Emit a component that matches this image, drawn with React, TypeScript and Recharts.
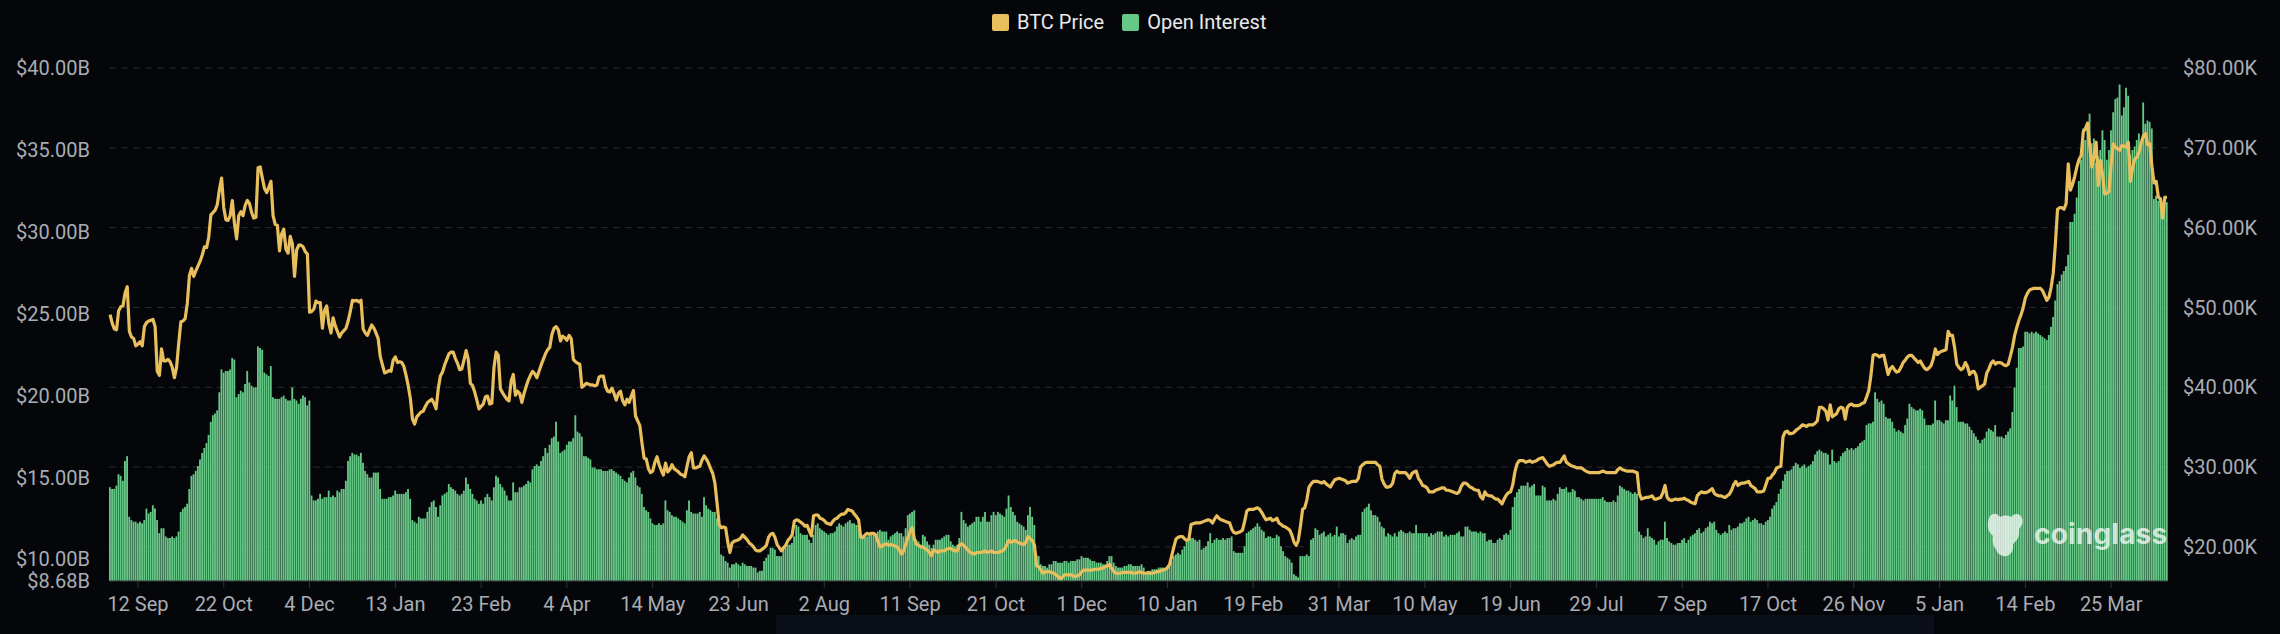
import React from "react";
import {
  Bar,
  CartesianGrid,
  ComposedChart,
  Line,
  XAxis,
  YAxis,
} from "recharts";

// Daily open interest, billions of USD (one value per category, 960 days)
const OPEN_INTEREST_B: number[] = [
  14.4, 14.3, 14.3, 14.5, 15.2, 15.1, 14.8, 16.0, 16.3, 12.6, 12.4, 12.3, 12.3, 12.2, 12.3, 12.2, 12.4, 13.1, 12.8, 12.9,
  13.3, 13.1, 12.4, 11.6, 11.9, 11.9, 11.4, 11.3, 11.3, 11.4, 11.3, 11.4, 11.7, 12.9, 13.1, 13.2, 13.4, 14.3, 15.1, 15.2,
  15.4, 15.7, 16.1, 16.5, 16.8, 17.1, 17.6, 18.4, 18.8, 18.9, 19.1, 20.2, 21.6, 21.4, 21.5, 21.5, 21.6, 22.3, 22.2, 19.9,
  20.1, 20.3, 20.2, 20.7, 21.5, 20.8, 20.6, 20.5, 20.5, 23.0, 22.9, 22.8, 21.4, 21.3, 21.2, 21.8, 19.9, 19.8, 19.8, 19.8,
  19.9, 20.0, 19.8, 19.7, 19.7, 20.5, 19.8, 19.7, 19.5, 19.8, 20.0, 19.9, 19.4, 19.7, 13.9, 13.6, 13.6, 13.7, 14.0, 13.7,
  13.8, 13.8, 14.2, 13.8, 13.9, 13.8, 14.2, 14.1, 14.3, 14.3, 14.8, 16.0, 16.3, 16.5, 16.4, 16.4, 16.3, 16.5, 15.9, 15.4,
  15.2, 15.0, 15.0, 15.3, 15.3, 15.3, 14.3, 13.7, 13.7, 13.7, 13.8, 13.8, 13.9, 14.2, 14.0, 14.0, 14.0, 14.0, 14.1, 14.3,
  13.7, 12.4, 12.3, 12.2, 12.6, 12.5, 12.5, 12.5, 12.9, 13.2, 13.5, 13.6, 13.2, 12.6, 13.3, 13.9, 14.0, 14.1, 14.6, 14.4,
  14.3, 14.2, 14.0, 13.9, 14.0, 14.2, 15.0, 14.6, 14.3, 14.0, 13.7, 13.6, 13.4, 13.6, 13.4, 13.8, 14.0, 13.8, 13.6, 14.4,
  15.1, 15.0, 14.6, 14.4, 14.2, 13.9, 13.6, 13.6, 14.7, 14.1, 14.1, 14.4, 14.4, 14.5, 14.6, 14.8, 14.7, 15.5, 15.7, 15.8,
  15.7, 16.0, 16.3, 16.8, 16.5, 17.0, 17.4, 17.5, 18.4, 17.2, 16.5, 16.6, 16.7, 17.0, 17.2, 17.2, 17.4, 18.8, 17.8, 17.7,
  17.5, 16.3, 16.3, 16.2, 16.1, 15.6, 15.6, 15.5, 15.5, 15.5, 15.4, 15.4, 15.4, 15.5, 15.5, 15.4, 15.3, 15.2, 15.1, 14.9,
  14.8, 14.7, 15.0, 15.3, 15.4, 15.0, 14.5, 14.4, 14.0, 13.2, 13.0, 12.9, 12.5, 12.2, 12.1, 12.1, 12.2, 12.1, 12.2, 13.6,
  13.0, 12.9, 12.7, 12.6, 12.6, 12.5, 12.4, 12.3, 12.2, 13.0, 13.6, 12.9, 12.8, 12.8, 12.8, 12.9, 12.6, 13.8, 13.3, 13.1,
  13.0, 12.9, 12.9, 12.5, 12.1, 10.3, 10.2, 9.9, 9.8, 9.5, 9.7, 9.7, 9.8, 9.7, 9.6, 9.8, 9.7, 9.6, 9.6, 9.6,
  9.5, 9.5, 9.2, 9.3, 9.3, 9.9, 10.1, 10.3, 10.7, 10.7, 10.6, 10.2, 10.2, 10.2, 10.6, 10.7, 10.9, 10.9, 11.0, 11.4,
  12.1, 12.0, 11.6, 11.5, 11.5, 11.5, 11.2, 11.0, 11.5, 12.1, 12.2, 11.9, 11.8, 11.7, 11.6, 11.5, 11.6, 11.6, 11.7, 12.0,
  12.2, 12.1, 12.0, 12.2, 12.3, 12.4, 12.2, 12.2, 12.1, 12.1, 11.4, 11.3, 11.4, 11.4, 11.6, 11.6, 11.6, 11.5, 11.7, 11.8,
  11.7, 11.7, 11.7, 11.2, 11.4, 11.5, 11.6, 11.7, 11.6, 11.6, 11.4, 11.9, 12.7, 12.8, 12.9, 13.0, 11.2, 11.1, 10.9, 11.5,
  11.4, 11.1, 10.9, 10.7, 10.9, 11.2, 11.2, 11.2, 11.3, 11.4, 11.5, 11.5, 11.1, 10.9, 10.8, 10.9, 11.3, 12.9, 12.4, 12.2,
  12.0, 12.1, 12.2, 12.3, 12.6, 12.6, 12.3, 12.6, 12.9, 12.3, 12.3, 12.7, 12.9, 12.7, 12.9, 12.8, 12.7, 12.6, 13.1, 13.9,
  13.2, 12.9, 12.7, 12.3, 12.2, 12.1, 12.0, 11.8, 12.7, 13.2, 12.6, 12.1, 10.3, 10.2, 9.7, 9.6, 9.6, 9.5, 9.7, 9.7,
  9.9, 9.9, 9.8, 9.8, 9.8, 9.9, 9.9, 9.8, 9.9, 9.9, 9.9, 10.0, 10.0, 10.2, 10.1, 10.1, 10.1, 10.0, 9.9, 9.9,
  9.8, 9.8, 9.8, 9.7, 9.7, 9.9, 10.2, 10.2, 9.8, 9.6, 9.5, 9.5, 9.5, 9.6, 9.6, 9.7, 9.7, 9.6, 9.6, 9.6,
  9.6, 9.7, 9.5, 9.2, 9.1, 9.3, 9.4, 9.4, 9.4, 9.5, 9.5, 9.5, 9.4, 9.6, 9.7, 9.9, 10.2, 10.3, 10.4, 10.3,
  10.6, 10.8, 11.1, 11.2, 11.3, 11.3, 11.2, 11.1, 11.2, 10.6, 10.7, 10.8, 11.1, 11.6, 11.0, 11.2, 11.3, 11.2, 11.2, 11.3,
  11.2, 11.3, 11.3, 11.4, 10.5, 10.4, 10.4, 10.4, 10.4, 10.8, 11.6, 11.7, 11.8, 11.9, 12.0, 12.2, 12.0, 11.8, 11.7, 11.3,
  11.4, 11.4, 11.3, 11.3, 11.5, 11.4, 10.8, 10.5, 10.2, 10.1, 10.0, 9.8, 9.1, 9.0, 8.9, 10.2, 10.2, 10.2, 10.3, 10.2,
  11.2, 11.3, 11.9, 11.8, 11.5, 11.6, 11.7, 11.4, 11.5, 11.6, 11.4, 11.5, 12.0, 11.4, 11.6, 11.6, 11.5, 11.0, 11.2, 11.3,
  11.2, 11.4, 11.5, 11.5, 12.9, 13.1, 13.2, 13.4, 13.0, 12.7, 12.7, 12.6, 12.3, 12.0, 11.9, 11.4, 11.6, 11.5, 11.4, 11.6,
  11.4, 11.7, 11.8, 11.7, 11.6, 11.6, 11.7, 11.6, 11.6, 12.1, 11.6, 11.6, 11.6, 11.6, 11.6, 11.4, 11.6, 11.5, 11.6, 11.7,
  11.7, 11.7, 11.4, 11.5, 11.4, 11.5, 11.5, 11.5, 11.6, 11.7, 11.4, 11.4, 12.0, 12.0, 11.8, 11.7, 11.7, 11.7, 11.6, 11.7,
  11.6, 11.6, 11.1, 11.2, 11.2, 11.0, 11.0, 11.2, 11.3, 11.2, 11.5, 11.6, 11.5, 11.8, 13.2, 13.8, 14.1, 14.3, 14.5, 14.5,
  14.5, 14.7, 14.4, 14.5, 14.6, 13.9, 13.9, 13.9, 14.5, 14.4, 13.6, 13.6, 13.6, 13.7, 13.6, 14.0, 14.4, 14.3, 14.3, 14.4,
  14.1, 14.1, 14.3, 14.2, 13.8, 13.8, 13.7, 13.6, 13.7, 13.7, 13.7, 13.7, 13.7, 13.7, 13.7, 13.7, 13.8, 13.6, 13.5, 13.5,
  13.5, 13.6, 13.5, 13.9, 14.5, 14.4, 14.3, 14.2, 14.2, 14.1, 14.0, 14.1, 14.0, 11.7, 11.5, 11.3, 11.4, 11.9, 11.4, 11.3,
  11.2, 10.9, 11.1, 11.2, 11.2, 12.3, 11.3, 11.1, 11.0, 10.9, 10.9, 11.0, 11.0, 11.2, 11.3, 11.0, 11.2, 11.4, 11.5, 11.6,
  11.8, 11.9, 11.6, 11.7, 11.9, 12.0, 12.3, 12.2, 12.3, 11.8, 11.6, 11.5, 11.6, 11.7, 11.6, 12.1, 11.8, 11.9, 11.9, 12.0,
  12.2, 12.2, 12.3, 12.5, 12.6, 12.3, 12.4, 12.5, 12.4, 12.2, 12.2, 12.1, 12.3, 12.4, 12.6, 13.1, 13.3, 13.5, 14.0, 14.3,
  14.8, 15.2, 15.4, 15.4, 15.5, 15.7, 15.9, 15.8, 15.6, 15.7, 15.8, 15.6, 15.7, 15.8, 16.0, 16.4, 16.6, 16.7, 16.6, 16.5,
  16.5, 16.4, 15.8, 16.7, 16.0, 15.9, 16.0, 16.3, 16.5, 16.6, 16.8, 16.7, 16.8, 16.7, 16.8, 16.9, 17.1, 17.2, 17.3, 18.2,
  18.3, 18.3, 18.4, 20.2, 19.8, 19.6, 19.7, 19.5, 18.7, 18.6, 18.6, 18.4, 18.0, 17.8, 17.9, 17.8, 17.7, 18.2, 18.6, 19.5,
  19.3, 19.2, 19.1, 19.1, 19.2, 19.1, 18.6, 18.2, 18.2, 18.2, 18.3, 19.7, 18.5, 18.5, 18.4, 18.3, 18.5, 18.5, 20.0, 19.7,
  20.6, 19.3, 18.4, 18.4, 18.4, 18.3, 18.3, 18.1, 17.9, 17.7, 17.5, 17.3, 17.1, 17.3, 17.4, 17.8, 18.0, 17.9, 17.8, 18.2,
  17.5, 17.5, 17.5, 17.4, 17.6, 17.8, 18.0, 19.0, 20.5, 21.7, 22.9, 22.9, 23.0, 23.9, 23.9, 23.8, 23.9, 23.8, 23.9, 23.8,
  23.7, 23.6, 23.5, 23.4, 23.7, 24.2, 24.8, 25.8, 26.8, 27.0, 27.4, 27.6, 27.9, 28.6, 30.6, 30.6, 31.1, 32.1, 33.1, 34.4,
  36.3, 35.6, 36.6, 37.2, 35.4, 35.7, 34.2, 34.6, 35.0, 36.2, 35.6, 34.4, 35.0, 36.2, 37.3, 38.1, 38.2, 39.0, 37.1, 37.6,
  38.8, 38.3, 34.7, 35.0, 35.2, 35.6, 36.0, 35.2, 37.9, 36.6, 36.8, 36.7, 36.3, 32.0, 32.2, 31.9, 31.7, 31.5, 31.7, 31.8,
];

// Daily BTC price, thousands of USD (same 960 categories)
const BTC_PRICE_K: number[] = [
  49.1, 48.0, 47.3, 47.2, 49.6, 50.1, 50.2, 51.8, 52.6, 47.0, 46.3, 46.1, 45.2, 45.4, 45.7, 45.2, 47.6, 48.1, 48.3, 48.4,
  48.5, 47.6, 42.0, 41.5, 44.8, 43.3, 43.3, 43.5, 43.2, 42.5, 41.2, 42.5, 45.5, 48.2, 48.3, 48.6, 50.5, 54.0, 54.9, 53.9,
  54.6, 55.2, 55.8, 56.6, 57.6, 57.5, 58.8, 61.6, 61.9, 62.2, 62.9, 64.8, 66.2, 62.5, 61.0, 60.9, 61.5, 63.4, 60.5, 58.6,
  61.5, 62.0, 61.5, 62.8, 63.4, 63.0, 61.9, 61.2, 61.3, 67.5, 67.6, 66.2, 64.9, 64.4, 65.0, 65.8, 61.5, 60.4, 60.3, 57.1,
  59.2, 59.8, 57.3, 56.8, 58.9, 58.0, 53.9, 57.2, 57.8, 57.8, 57.6, 57.0, 56.7, 49.4, 49.5, 49.8, 50.8, 50.6, 50.6, 47.4,
  49.6, 50.2, 48.0, 46.8, 48.7, 47.7, 47.0, 46.3, 46.8, 47.1, 47.4, 48.3, 49.5, 50.9, 50.8, 50.9, 50.7, 50.9, 47.3, 46.8,
  46.5, 47.2, 47.8, 47.4, 46.8, 46.1, 43.8, 42.8, 41.8, 41.9, 42.1, 42.0, 43.4, 43.8, 43.1, 43.2, 43.1, 42.6, 41.5, 40.2,
  38.6, 36.0, 35.4, 36.3, 36.6, 36.9, 37.0, 37.6, 38.1, 38.3, 38.5, 38.0, 37.3, 39.8, 41.4, 41.9, 42.8, 43.5, 44.2, 44.4,
  44.4, 43.6, 43.0, 42.2, 42.3, 43.4, 44.6, 43.5, 40.5, 40.2, 39.4, 38.4, 37.3, 37.6, 37.9, 38.8, 38.9, 37.9, 38.0, 42.5,
  44.4, 44.0, 39.8, 39.3, 38.9, 38.5, 38.3, 40.8, 41.6, 39.0, 39.5, 39.2, 38.1, 39.2, 40.1, 40.9, 41.5, 42.0, 41.7, 41.2,
  42.0, 42.8, 43.5, 44.2, 44.7, 45.0, 46.6, 47.4, 47.6, 47.2, 45.8, 46.4, 46.2, 45.9, 46.5, 46.1, 43.5, 43.2, 43.0, 42.9,
  40.0, 40.2, 40.5, 40.4, 40.3, 40.3, 40.2, 40.3, 41.3, 41.4, 41.4, 40.1, 39.5, 39.4, 39.9, 39.2, 38.4, 39.2, 39.5, 38.3,
  37.8, 38.5, 38.1, 38.9, 39.6, 36.4, 35.8, 35.2, 33.0, 31.1, 31.0, 29.8, 29.3, 29.5, 30.6, 31.3, 30.3, 29.6, 29.0, 30.5,
  29.4, 29.7, 30.3, 29.8, 29.6, 29.4, 29.1, 29.0, 28.8, 30.1, 31.3, 31.8, 29.9, 29.9, 30.0, 30.1, 30.9, 31.4, 31.0, 30.5,
  29.8, 29.2, 28.0, 25.5, 22.8, 22.4, 22.5, 22.4, 20.6, 19.3, 20.5, 20.7, 20.8, 20.9, 21.1, 21.5, 21.2, 20.9, 20.5, 20.3,
  20.0, 19.6, 19.5, 19.5, 19.7, 19.9, 20.2, 21.2, 21.6, 21.7, 21.2, 20.3, 19.9, 19.5, 19.9, 20.2, 20.8, 21.1, 21.5, 23.2,
  23.4, 23.3, 23.1, 22.9, 22.6, 22.7, 22.0, 21.4, 23.9, 24.0, 24.0, 23.6, 23.5, 23.3, 23.0, 22.9, 22.8, 23.2, 23.5, 23.6,
  23.9, 24.1, 24.1, 24.3, 24.7, 24.6, 24.5, 24.1, 23.8, 23.4, 21.2, 21.2, 21.5, 21.7, 21.6, 21.7, 21.7, 21.5, 20.7, 20.0,
  20.1, 20.3, 20.4, 20.2, 20.3, 20.2, 20.1, 20.0, 19.6, 19.1, 19.5, 20.4, 21.2, 21.9, 22.4, 21.0, 20.3, 20.2, 20.0, 20.0,
  19.8, 19.6, 19.3, 18.9, 19.6, 19.5, 19.3, 19.5, 19.5, 19.5, 19.7, 19.8, 19.8, 19.6, 19.5, 19.5, 20.2, 20.4, 20.2, 19.9,
  19.6, 19.3, 19.2, 19.1, 19.3, 19.3, 19.3, 19.4, 19.5, 19.3, 19.4, 19.5, 19.3, 19.3, 19.3, 19.4, 19.5, 19.7, 20.2, 20.8,
  20.6, 20.7, 20.8, 20.6, 20.5, 20.4, 20.3, 20.6, 21.3, 21.0, 20.8, 20.2, 17.6, 17.5, 17.1, 16.7, 16.9, 16.9, 16.9, 16.8,
  16.7, 16.5, 16.3, 16.0, 16.2, 16.5, 16.5, 16.5, 16.5, 16.4, 16.3, 16.4, 16.5, 16.9, 17.1, 17.1, 17.1, 17.1, 17.1, 17.2,
  17.2, 17.2, 17.3, 17.4, 17.5, 17.6, 17.8, 17.3, 16.9, 16.7, 16.7, 16.7, 16.8, 16.8, 16.8, 16.8, 16.8, 16.7, 16.7, 16.8,
  16.9, 16.8, 16.7, 16.7, 16.8, 16.7, 16.7, 16.8, 16.9, 16.9, 17.0, 17.1, 17.2, 17.4, 17.8, 18.9, 20.0, 21.0, 21.2, 21.3,
  21.3, 21.0, 20.8, 21.0, 22.8, 22.9, 23.0, 23.0, 23.0, 23.1, 23.2, 23.3, 23.4, 23.3, 23.0, 23.5, 23.9, 23.6, 23.4, 23.3,
  23.2, 23.1, 23.0, 22.2, 21.8, 21.7, 21.8, 21.9, 22.1, 23.2, 24.5, 24.7, 24.7, 24.7, 24.8, 24.9, 24.7, 24.3, 23.8, 23.4,
  23.5, 23.6, 23.3, 23.4, 23.6, 23.0, 22.8, 22.6, 22.5, 22.3, 22.1, 21.5, 20.6, 20.2, 20.8, 22.6, 24.7, 24.9, 25.9, 27.5,
  27.9, 28.2, 28.2, 28.2, 28.1, 28.0, 28.2, 27.9, 27.7, 27.5, 28.0, 28.4, 28.5, 28.6, 28.5, 28.4, 28.3, 28.0, 28.1, 28.2,
  28.2, 28.2, 28.6, 30.0, 30.3, 30.5, 30.6, 30.6, 30.6, 30.6, 30.6, 30.3, 30.1, 28.5, 27.9, 27.5, 27.5, 27.6, 28.0, 29.2,
  29.5, 29.3, 29.3, 29.3, 29.3, 29.0, 28.6, 29.2, 29.4, 29.5, 28.6, 28.2, 27.7, 27.6, 27.4, 26.9, 26.9, 26.9, 27.1, 27.2,
  27.3, 27.4, 27.4, 27.1, 27.1, 27.0, 26.9, 26.8, 26.7, 26.9, 27.6, 28.0, 28.0, 27.8, 27.5, 27.4, 27.2, 27.1, 27.1, 26.3,
  26.0, 26.9, 26.5, 26.4, 26.4, 26.2, 26.0, 26.0, 25.7, 25.4, 26.0, 26.5, 26.8, 26.9, 27.8, 29.4, 30.4, 30.8, 30.8, 30.8,
  30.6, 30.7, 30.8, 30.6, 30.7, 30.8, 31.0, 31.1, 31.2, 30.8, 30.4, 30.1, 30.2, 30.3, 30.5, 30.6, 30.6, 31.0, 31.4, 30.6,
  30.4, 30.2, 30.1, 30.0, 29.9, 29.9, 29.9, 29.7, 29.5, 29.4, 29.3, 29.3, 29.3, 29.3, 29.3, 29.4, 29.5, 29.4, 29.3, 29.3,
  29.3, 29.3, 29.3, 29.7, 29.9, 29.7, 29.6, 29.5, 29.5, 29.5, 29.5, 29.4, 29.3, 26.7, 26.0, 26.1, 26.2, 26.2, 26.3, 26.4,
  26.0, 26.0, 26.1, 26.2, 26.8, 27.7, 26.2, 25.9, 25.8, 25.9, 26.0, 25.9, 26.0, 26.0, 26.1, 25.9, 25.8, 25.6, 25.5, 25.4,
  26.4, 26.7, 26.9, 26.8, 26.8, 26.9, 27.1, 27.3, 26.7, 26.5, 26.4, 26.4, 26.3, 26.2, 26.4, 26.6, 27.1, 27.8, 28.2, 27.7,
  27.9, 28.0, 28.0, 28.1, 28.2, 27.7, 27.5, 27.3, 26.9, 26.9, 26.9, 27.0, 27.8, 28.6, 28.6, 29.0, 29.3, 29.9, 30.0, 30.1,
  33.8, 34.4, 34.5, 34.2, 34.2, 34.3, 34.6, 34.8, 35.0, 35.3, 35.2, 35.1, 35.3, 35.3, 35.3, 35.5, 35.8, 37.5, 37.5, 37.3,
  37.0, 35.9, 37.8, 36.3, 36.5, 36.7, 37.3, 37.5, 37.4, 36.0, 37.5, 37.8, 37.9, 37.7, 37.7, 37.7, 37.8, 38.0, 38.1, 38.8,
  39.6, 41.5, 44.0, 44.1, 44.0, 43.8, 44.0, 44.0, 42.8, 41.6, 42.3, 42.6, 42.2, 41.9, 42.0, 42.5, 43.1, 43.4, 43.8, 44.0,
  44.0, 43.7, 43.4, 43.1, 43.3, 42.8, 42.4, 42.2, 42.4, 42.7, 43.5, 44.8, 44.1, 44.4, 44.5, 44.6, 44.7, 47.0, 46.5, 46.5,
  45.0, 42.9, 42.5, 42.2, 42.4, 43.1, 42.6, 41.6, 41.9, 42.0, 41.5, 39.8, 40.0, 40.2, 40.4, 41.8, 42.3, 43.0, 43.3, 42.9,
  43.1, 43.1, 43.0, 42.8, 42.7, 42.9, 43.9, 45.0, 46.5, 47.5, 48.4, 49.1, 50.0, 51.2, 51.8, 52.2, 52.3, 52.4, 52.4, 52.4,
  52.4, 52.1, 51.5, 50.9, 51.3, 52.5, 54.3, 58.0, 62.3, 62.5, 62.5, 62.3, 63.0, 68.0, 64.7, 65.4, 66.4, 67.6, 68.5, 69.0,
  72.0, 72.4, 73.1, 70.3, 67.6, 68.9, 70.7, 65.3, 68.4, 66.6, 64.2, 64.3, 64.5, 68.0, 70.5, 70.1, 69.9, 69.7, 70.3, 70.2,
  70.1, 70.7, 65.8, 67.5, 68.6, 68.8, 69.5, 70.6, 71.5, 71.8, 70.4, 70.5, 67.7, 65.6, 65.8, 63.8, 63.6, 61.2, 63.8, 63.8,
];

// Category positions that carry a date label, and the labels themselves
const X_TICK_INDEX = [
  13, 53, 93, 133, 173, 213, 253, 293, 333, 373, 413, 453,
  493, 533, 573, 613, 653, 693, 733, 773, 813, 853, 893, 933,
];
const X_TICK_LABELS = [
  "12 Sep", "22 Oct", "4 Dec", "13 Jan", "23 Feb", "4 Apr", "14 May", "23 Jun",
  "2 Aug", "11 Sep", "21 Oct", "1 Dec", "10 Jan", "19 Feb", "31 Mar", "10 May",
  "19 Jun", "29 Jul", "7 Sep", "17 Oct", "26 Nov", "5 Jan", "14 Feb", "25 Mar",
];

const OI_TICKS = [8.68, 10, 15, 20, 25, 30, 35, 40];
const PRICE_TICKS = [20, 30, 40, 50, 60, 70, 80];

const OI_DOMAIN: [number, number] = [8.68, 40];
const PRICE_DOMAIN: [number, number] = [15.73, 80];

const GOLD = "#e8bf5c";
const GREEN = "#66c886";
const BG = "#05060a";

const data = OPEN_INTEREST_B.map((oi, i) => ({ i, oi, price: BTC_PRICE_K[i] }));

const tickLabel = (i: number) => {
  const k = X_TICK_INDEX.indexOf(i);
  return k >= 0 ? X_TICK_LABELS[k] : "";
};

const axisText = { fill: "#a9adb3", fontSize: 20, fontFamily: "Roboto, sans-serif" };

function LegendItem({ color, label }: { color: string; label: string }) {
  return (
    <div style={{ display: "flex", alignItems: "center", marginRight: 18 }}>
      <span
        style={{
          width: 17,
          height: 17,
          background: color,
          borderRadius: 2,
          marginRight: 8,
          display: "inline-block",
        }}
      />
      <span style={{ color: "#e9eaec", fontSize: 20, lineHeight: "20px" }}>{label}</span>
    </div>
  );
}

// coinglass watermark, drawn over the bars
function Watermark() {
  return (
    <div
      style={{
        position: "absolute",
        left: 1984,
        top: 510,
        display: "flex",
        alignItems: "center",
        pointerEvents: "none",
        opacity: 0.72,
      }}
    >
      <svg width={42} height={48} viewBox="0 0 42 48">
        <path
          d="M6 6 C10 2 14 4 16 7 C19 5 24 5 27 7 C30 3 36 3 38 8 C40 13 37 17 35 19
             C36 26 33 31 29 34 C30 39 28 44 23 46 C18 47 13 44 12 39 C9 36 8 31 9 26
             C5 23 3 18 4 13 C4 10 5 8 6 6 Z"
          fill="#ffffff"
        />
      </svg>
      <span
        style={{
          color: "#ffffff",
          fontFamily: "Inter, Roboto, sans-serif",
          fontWeight: 700,
          fontSize: 28,
          marginLeft: 8,
          letterSpacing: 0.2,
        }}
      >
        coinglass
      </span>
    </div>
  );
}

export default function App() {
  return (
    <div
      style={{
        position: "absolute",
        left: 0,
        top: 0,
        width: 2280,
        height: 634,
        background: BG,
        fontFamily: "Roboto, sans-serif",
        overflow: "hidden",
      }}
    >
      <div
        style={{
          position: "absolute",
          left: 992,
          top: 12,
          display: "flex",
          alignItems: "center",
        }}
      >
        <LegendItem color={GOLD} label="BTC Price" />
        <LegendItem color={GREEN} label="Open Interest" />
      </div>

      <ComposedChart
        width={2280}
        height={634}
        data={data}
        margin={{ top: 68, right: 12, bottom: 3, left: 9 }}
      >
        <CartesianGrid
          yAxisId="price"
          vertical={false}
          stroke="#272a31"
          strokeDasharray="7 5"
        />
        <XAxis
          dataKey="i"
          type="category"
          ticks={X_TICK_INDEX}
          interval={0}
          tickFormatter={tickLabel}
          tick={axisText}
          tickSize={7}
          tickMargin={9}
          tickLine={{ stroke: "#2e3138" }}
          axisLine={{ stroke: "#2e3138" }}
          height={50}
        />
        <YAxis
          yAxisId="oi"
          orientation="left"
          type="number"
          domain={OI_DOMAIN}
          ticks={OI_TICKS}
          interval={0}
          allowDataOverflow
          tickFormatter={(v: number) => `$${v.toFixed(2)}B`}
          tick={axisText}
          tickSize={0}
          tickMargin={19}
          axisLine={false}
          tickLine={false}
          width={100}
        />
        <YAxis
          yAxisId="price"
          orientation="right"
          type="number"
          domain={PRICE_DOMAIN}
          ticks={PRICE_TICKS}
          interval={0}
          allowDataOverflow
          tickFormatter={(v: number) => `$${v.toFixed(2)}K`}
          tick={axisText}
          tickSize={0}
          tickMargin={15}
          axisLine={false}
          tickLine={false}
          width={100}
        />
        <Bar
          yAxisId="oi"
          dataKey="oi"
          fill={GREEN}
          barSize={1.85}
          isAnimationActive={false}
        />
        <Line
          yAxisId="price"
          dataKey="price"
          type="linear"
          stroke={GOLD}
          strokeWidth={3.2}
          strokeLinejoin="round"
          dot={false}
          activeDot={false}
          isAnimationActive={false}
        />
      </ComposedChart>

      <Watermark />

      <div
        style={{
          position: "absolute",
          left: 776,
          top: 615,
          width: 1158,
          height: 19,
          background: "#0a0f19",
        }}
      />
    </div>
  );
}
